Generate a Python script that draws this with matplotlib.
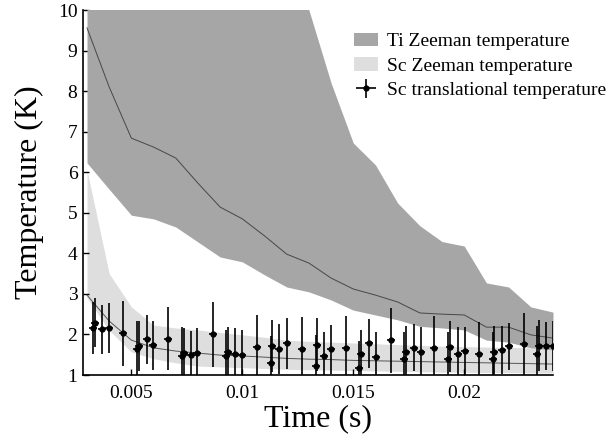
import matplotlib
matplotlib.use('Agg')
from matplotlib import pyplot as plt

plt.rcParams['font.family'] = ['Liberation Serif', 'DejaVu Serif']
plt.rcParams['mathtext.fontset'] = 'stix'

# band time grid (s)
t_band = [0.003, 0.004, 0.005, 0.006, 0.007, 0.008, 0.009, 0.010, 0.011, 0.012, 0.013,
          0.014, 0.015, 0.016, 0.017, 0.018, 0.019, 0.020, 0.021, 0.022, 0.023, 0.024]

ti_upper = [12, 12, 12, 12, 12, 12, 12, 12, 12, 12, 10.0,
            8.2, 6.72, 6.18, 5.24, 4.68, 4.29, 4.18, 3.27, 3.17, 2.68, 2.55]
ti_mid = [9.56, 8.1, 6.84, 6.62, 6.35, 5.73, 5.14, 4.85, 4.43, 3.98, 3.76,
          3.39, 3.12, 2.97, 2.8, 2.53, 2.5, 2.48, 2.18, 2.18, 1.99, 1.91]
ti_lower = [6.23, 5.58, 4.94, 4.85, 4.65, 4.28, 3.91, 3.79, 3.47, 3.17, 3.05,
            2.85, 2.6, 2.48, 2.36, 2.2, 2.16, 2.11, 1.86, 1.81, 1.67, 1.62]

sc_upper = [6.05, 3.5, 2.68, 2.23, 2.16, 2.11, 2.05, 1.99, 1.93, 1.86, 1.83,
            1.81, 1.79, 1.77, 1.75, 1.73, 1.71, 1.7, 1.69, 1.68, 1.67, 1.66]
sc_mid = [2.97, 2.33, 1.86, 1.67, 1.59, 1.54, 1.49, 1.47, 1.44, 1.41, 1.39,
          1.38, 1.36, 1.35, 1.34, 1.33, 1.32, 1.31, 1.30, 1.29, 1.28, 1.27]
sc_lower = [2.9, 2.1, 1.57, 1.4, 1.3, 1.22, 1.2, 1.18, 1.16, 1.14, 1.13,
            1.12, 1.11, 1.1, 1.09, 1.08, 1.07, 1.07, 1.06, 1.06, 1.05, 1.05]

# Sc translational temperature points
t_pts = [0.003257, 0.003347, 0.003689, 0.003991, 0.004635,
         0.005266, 0.005356, 0.005689, 0.005986, 0.006662,
         0.007293, 0.007369, 0.007698, 0.007968, 0.008662,
         0.009248, 0.009351, 0.00968, 0.009995, 0.010671,
         0.011275, 0.011347, 0.011662, 0.011995, 0.012671,
         0.013302, 0.013374, 0.013689, 0.014005, 0.01468,
         0.015266, 0.015342, 0.015703, 0.016005, 0.01668,
         0.017266, 0.017356, 0.017716, 0.018032, 0.018644,
         0.019275, 0.019365, 0.019698, 0.020027, 0.020671,
         0.021275, 0.021347, 0.021707, 0.022023, 0.022698,
         0.023284, 0.023374, 0.023707, 0.024005]
T_pts = [2.17, 2.29, 2.13, 2.16, 2.03,
         1.65, 1.71, 1.88, 1.73, 1.90,
         1.47, 1.55, 1.50, 1.55, 2.00,
         1.47, 1.57, 1.53, 1.49, 1.70,
         1.29, 1.71, 1.64, 1.78, 1.65,
         1.23, 1.75, 1.47, 1.63, 1.67,
         1.18, 1.51, 1.78, 1.45, 1.86,
         1.39, 1.57, 1.67, 1.57, 1.67,
         1.39, 1.70, 1.53, 1.58, 1.53,
         1.39, 1.57, 1.62, 1.71, 1.76,
         1.53, 1.72, 1.71, 1.72]
T_err = [0.64, 0.6, 0.6, 0.62, 0.8,
         0.67, 0.62, 0.6, 0.61, 0.77,
         0.72, 0.6, 0.58, 0.62, 0.8,
         0.64, 0.62, 0.62, 0.62, 0.78,
         0.66, 0.64, 0.62, 0.62, 0.79,
         0.76, 0.65, 0.6, 0.6, 0.79,
         0.66, 0.6, 0.6, 0.62, 0.8,
         0.66, 0.64, 0.58, 0.62, 0.79,
         0.66, 0.63, 0.66, 0.61, 0.78,
         0.67, 0.64, 0.59, 0.58, 0.78,
         0.67, 0.63, 0.59, 0.61]
t_err = 0.00018

fig = plt.figure(figsize=(6.08, 4.45), dpi=100)
ax = fig.add_axes([83/608, 70/445, 470/608, 365/445])

ax.fill_between(t_band, sc_lower, sc_upper, color='#dedede', lw=0,
                label='Sc Zeeman temperature', zorder=1)
ax.fill_between(t_band, ti_lower, ti_upper, color='#a6a6a6', lw=0,
                label='Ti Zeeman temperature', zorder=2)
ax.plot(t_band, sc_mid, color='#555555', lw=0.7, zorder=3)
ax.plot(t_band, ti_mid, color='#474747', lw=0.7, zorder=3)
ax.errorbar(t_pts, T_pts, yerr=T_err, xerr=t_err, fmt='o', ms=3.5, color='black',
            elinewidth=1.2, capsize=0, label='Sc translational temperature',
            zorder=4, clip_on=True)

ax.set_xlim(0.00282, 0.0240)
ax.set_ylim(1, 10)
ax.set_xticks([0.005, 0.01, 0.015, 0.02])
ax.set_xticklabels(['0.005', '0.01', '0.015', '0.02'])
ax.set_yticks(range(1, 11))
ax.tick_params(axis='both', direction='in', length=4, width=1, labelsize=14)
ax.tick_params(axis='x', pad=7)
ax.tick_params(axis='y', pad=4)
for s in ['top', 'right']:
    ax.spines[s].set_visible(False)
for s in ['left', 'bottom']:
    ax.spines[s].set_linewidth(1.2)

ax.set_xlabel('Time (s)', fontsize=23, labelpad=2)
ax.set_ylabel('Temperature (K)', fontsize=23, labelpad=10)

h, l = ax.get_legend_handles_labels()
order = [l.index('Ti Zeeman temperature'), l.index('Sc Zeeman temperature'),
         l.index('Sc translational temperature')]
ax.legend([h[i] for i in order], [l[i] for i in order], frameon=False, fontsize=14,
          loc='upper left', bbox_to_anchor=(0.548, 0.975), handlelength=1.2,
          handletextpad=0.5, labelspacing=0.35, borderpad=0.2)

fig.savefig('out.png', dpi=100)
